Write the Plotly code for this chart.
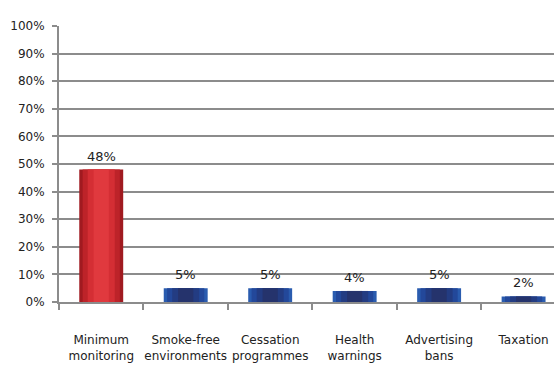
import plotly.graph_objects as go

categories = ["Minimum<br>monitoring", "Smoke-free<br>environments", "Cessation<br>programmes",
              "Health<br>warnings", "Advertising<br>bans", "Taxation"]
values = [48, 5, 5, 4, 5, 2]
y_ticks = list(range(0, 101, 10))
y_labels = [f"{t}%" for t in y_ticks]

# fake a horizontal gradient by stacking narrower bars on top of each other
red_shades = ["#a01a20", "#bd2329", "#d42e34", "#e0393e"]
blue_shades = ["#2a5caf", "#23489a", "#233c82", "#25336c"]
widths = [0.52, 0.44, 0.32, 0.18]

fig = go.Figure()
for i, w in enumerate(widths):
    colors = [red_shades[i]] + [blue_shades[i]] * (len(values) - 1)
    fig.add_trace(go.Bar(
        x=categories, y=values, width=w,
        marker=dict(color=colors, line=dict(width=0)),
        hoverinfo="x+y", showlegend=False,
    ))

# value labels sit a little higher above the bars than plotly's default
for c, v in zip(categories, values):
    fig.add_annotation(x=c, y=v, text=f"{v}%", showarrow=False,
                       yanchor="bottom", yshift=4,
                       font=dict(family="DejaVu Sans", size=13, color="#222222"))

# the original chart is cut off on the right, inside the last category
fig.update_layout(
    width=554, height=365,
    barmode="overlay",
    margin=dict(l=59, r=0, t=26, b=63, autoexpand=False),
    plot_bgcolor="white", paper_bgcolor="white",
    font=dict(family="DejaVu Sans", size=12, color="#222222"),
)
fig.update_xaxes(
    range=[-0.5, 5.36],
    showgrid=False, showline=True, linecolor="#8c8c8c", linewidth=2,
    ticks="outside", tickson="boundaries", ticklen=6, tickcolor="#8c8c8c", tickwidth=2,
    ticklabelstandoff=26, tickangle=0, automargin=False, tickfont=dict(size=12),
)
fig.update_yaxes(
    range=[0, 100], tickvals=y_ticks, ticktext=y_labels,
    showgrid=True, gridcolor="#8c8c8c", gridwidth=2,
    showline=True, linecolor="#8c8c8c", linewidth=2,
    ticks="outside", ticklen=5, tickcolor="#8c8c8c", tickwidth=2,
    ticklabelstandoff=5,
    automargin=False, tickfont=dict(size=12), zeroline=False,
)

# drop the page margin so the figure fills the window without scrollbars
fig.write_html("out.html", config={"displayModeBar": False},
               post_script="document.body.style.margin='0';")
